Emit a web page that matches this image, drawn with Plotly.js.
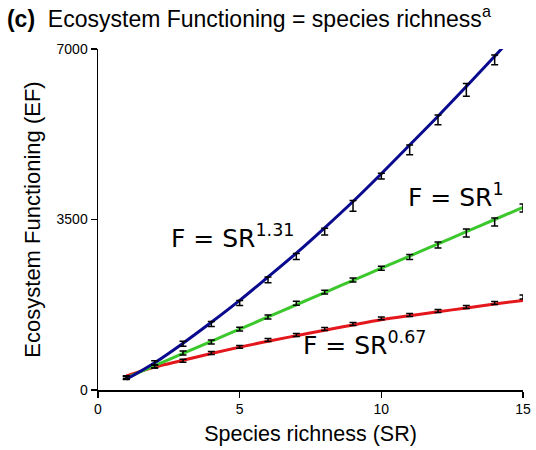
<!DOCTYPE html>
<html>
<head>
<meta charset="utf-8">
<script src="https://cdn.plot.ly/plotly-3.0.1.min.js"></script>
<style>html,body{margin:0;padding:0;background:#fff;}#chart{width:536px;height:450px;}</style>
</head>
<body>
<div id="chart"></div>
<script>
// Species richness
var sr = [1, 2, 3, 4, 5, 6, 7, 8, 9, 10, 11, 12, 13, 14, 15];
var srBlue = [1, 2, 3, 4, 5, 6, 7, 8, 9, 10, 11, 12, 13, 14];

// Observed means and errors
var blueMean = [245, 560, 950, 1355, 1786, 2260, 2740, 3250, 3780, 4390, 4930, 5543, 6160, 6775];
var blueErr  = [30, 40, 50, 50, 50, 60, 60, 70, 110, 60, 100, 100, 130, 100];
var greenMean = [250, 480, 760, 985, 1250, 1500, 1780, 2010, 2258, 2500, 2730, 2977, 3223, 3449, 3736];
var greenErr  = [30, 30, 40, 40, 40, 40, 40, 40, 40, 40, 50, 60, 80, 80, 80];
var redMean = [265, 480, 600, 760, 885, 1027, 1129, 1252, 1355, 1470, 1540, 1622, 1704, 1786, 1909];
var redErr  = [30, 30, 30, 30, 30, 30, 30, 30, 30, 30, 30, 30, 30, 30, 40];

// Fitted curves
var blueFit  = [220, 560, 960, 1390, 1840, 2320, 2810, 3330, 3870, 4440, 5030, 5620, 6230, 6850, 7480];
var greenFit = [250, 500, 750, 1000, 1250, 1500, 1750, 2000, 2250, 2500, 2750, 3000, 3250, 3500, 3750];
var redFit   = [290, 470, 610, 750, 880, 1000, 1115, 1225, 1335, 1440, 1525, 1605, 1685, 1765, 1840];

var xTicks = [0, 5, 10, 15];
var yTicks = [0, 3500, 7000];

var lineW = 3;
function fitTrace(y, color) {
  return {x: sr, y: y, type: 'scatter', mode: 'lines', line: {color: color, width: lineW, shape: 'spline'}, hoverinfo: 'skip'};
}
function barTrace(x, y, e) {
  return {x: x, y: y, type: 'scatter', mode: 'markers',
    marker: {size: 1, color: 'rgba(0,0,0,0)'},
    error_y: {type: 'data', array: e, visible: true, color: '#000', thickness: 1.5, width: 3.5},
    hoverinfo: 'skip'};
}

var data = [
  fitTrace(redFit, '#e3171c'),
  fitTrace(greenFit, '#3cc82c'),
  fitTrace(blueFit, '#0a0a8f'),
  barTrace(sr, redMean, redErr),
  barTrace(sr, greenMean, greenErr),
  barTrace(srBlue, blueMean, blueErr)
];

var annFont = {family: 'DejaVu Sans', size: 25, color: '#000'};
var layout = {
  width: 536, height: 450,
  margin: {l: 98, r: 13, t: 49, b: 60},
  paper_bgcolor: '#fff', plot_bgcolor: '#fff',
  showlegend: false,
  font: {family: 'Liberation Sans', color: '#000'},
  title: {
    text: '<b>(c)</b>  Ecosystem Functioning = species richness<sup>a</sup>',
    font: {family: 'Liberation Sans', size: 23, color: '#000'},
    x: 0.013, xanchor: 'left', xref: 'container',
    y: 0.958, yanchor: 'middle', yref: 'container'
  },
  xaxis: {
    range: [0, 15], tickvals: xTicks, ticktext: xTicks.map(String),
    showgrid: false, zeroline: false, showline: true, linecolor: '#000', linewidth: 1.5,
    ticks: 'outside', ticklen: 6, tickwidth: 1.5, tickcolor: '#000',
    tickfont: {family: 'Liberation Sans', size: 14, color: '#000'},
    title: {text: 'Species richness (SR)', font: {family: 'Liberation Sans', size: 21.5, color: '#000'}, standoff: 9}
  },
  yaxis: {
    range: [0, 7000], tickvals: yTicks, ticktext: yTicks.map(String),
    showgrid: false, zeroline: false, showline: true, linecolor: '#000', linewidth: 1.5,
    ticks: 'outside', ticklen: 6, tickwidth: 1.5, tickcolor: '#000',
    tickfont: {family: 'Liberation Sans', size: 14, color: '#000'},
    title: {text: 'Ecosystem Functioning (EF)', font: {family: 'Liberation Sans', size: 22, color: '#000'}, standoff: 10}
  },
  annotations: [
    {x: 2.5, y: 2777, xref: 'x', yref: 'y', text: 'F = SR<sup>1.31</sup>', showarrow: false, xanchor: 'left', yanchor: 'bottom', font: annFont},
    {x: 10.86, y: 3606, xref: 'x', yref: 'y', text: 'F = SR<sup>1</sup>', showarrow: false, xanchor: 'left', yanchor: 'bottom', font: annFont},
    {x: 7.17, y: 582, xref: 'x', yref: 'y', text: 'F = SR<sup>0.67</sup>', showarrow: false, xanchor: 'left', yanchor: 'bottom', font: annFont}
  ]
};

Plotly.newPlot('chart', data, layout, {displayModeBar: false, staticPlot: true});
</script>
</body>
</html>
